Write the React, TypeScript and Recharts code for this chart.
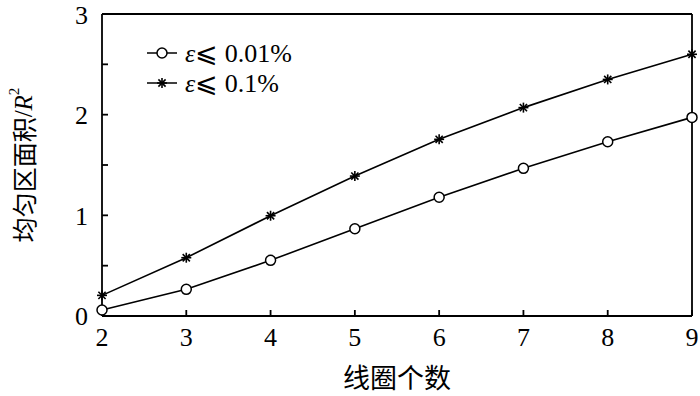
import React from 'react';
import { LineChart, Line, XAxis, YAxis, ReferenceLine } from 'recharts';

const coils = [2, 3, 4, 5, 6, 7, 8, 9];
const strict = [0.06, 0.265, 0.553, 0.867, 1.18, 1.467, 1.731, 1.973];
const loose = [0.205, 0.579, 0.996, 1.39, 1.755, 2.07, 2.35, 2.6];
const xTicks = [2, 3, 4, 5, 6, 7, 8, 9];
const yTicks = [0, 0.5, 1, 1.5, 2, 2.5, 3];
const seriesNames = ['0.01%', '0.1%'];

const data = coils.map((n, i) => ({ n, strict: strict[i], loose: loose[i] }));

const serif = '"Liberation Serif", "Times New Roman", serif';
const cjk = '"Noto Sans CJK SC", sans-serif';

const CircleDot = (props: any) => {
    const { cx, cy } = props;
    if (cx == null || cy == null) return null;
    return <circle cx={cx} cy={cy} r={5} fill="#fff" stroke="#000" strokeWidth={1.5} />;
};

const StarDot = (props: any) => {
    const { cx, cy } = props;
    if (cx == null || cy == null) return null;
    const r = 5;
    const d = r * 0.72;
    return (
        <g stroke="#000" strokeWidth={1.6}>
            <line x1={cx - r} y1={cy} x2={cx + r} y2={cy} />
            <line x1={cx} y1={cy - r} x2={cx} y2={cy + r} />
            <line x1={cx - d} y1={cy - d} x2={cx + d} y2={cy + d} />
            <line x1={cx - d} y1={cy + d} x2={cx + d} y2={cy - d} />
        </g>
    );
};

const LegendBox = () => (
    <svg width={200} height={64} style={{ position: 'absolute', left: 145, top: 37 }}>
        {seriesNames.map((name, i) => {
            const y = 16 + i * 30;
            return (
                <g key={name}>
                    <line x1={2} y1={y} x2={32} y2={y} stroke="#000" strokeWidth={1.5} />
                    {i === 1 ? <StarDot cx={17} cy={y} /> : <CircleDot cx={17} cy={y} />}
                    <text x={40} y={y + 9} fontFamily={serif} fontSize={26} fill="#000">
                        <tspan fontStyle="italic">ε</tspan>
                        <tspan fontFamily='"DejaVu Serif", serif' fontSize={27}>⩽</tspan>
                        <tspan> {name}</tspan>
                    </text>
                </g>
            );
        })}
    </svg>
);

const YLabel = (props: any) => {
    const vb = props.viewBox || {};
    const cy = (vb.y ?? 14) + (vb.height ?? 302) / 2;
    const cx = 23;
    return (
        <text
            x={cx}
            y={cy}
            transform={`rotate(-90 ${cx} ${cy})`}
            textAnchor="middle"
            dominantBaseline="central"
            fill="#000"
            fontSize={25}
        >
            <tspan fontFamily={cjk}>均匀区面积</tspan>
            <tspan fontFamily={serif}>/</tspan>
            <tspan fontFamily={serif} fontStyle="italic">R</tspan>
            <tspan fontFamily={serif} fontSize={15} dy={-9}>2</tspan>
        </text>
    );
};

const yFmt = (v: number) => (Number.isInteger(v) ? String(v) : '');

export default function App() {
    return (
        <div style={{ position: 'absolute', left: 0, top: 0, width: 700, height: 396, background: '#fff' }}>
            <LineChart width={700} height={396} data={data} margin={{ top: 14, right: 8, bottom: 0, left: 0 }}>
                <XAxis
                    dataKey="n"
                    type="number"
                    domain={[2, 9]}
                    ticks={xTicks}
                    height={80}
                    stroke="#000"
                    strokeWidth={1.8}
                    tickSize={-6}
                    tickMargin={18}
                    tick={{ fill: '#000', fontSize: 26, fontFamily: serif }}
                    label={{ value: '线圈个数', position: 'insideBottom', offset: 8, fill: '#000', fontSize: 27, fontFamily: cjk }}
                />
                <YAxis
                    type="number"
                    domain={[0, 3]}
                    ticks={yTicks}
                    width={102}
                    stroke="#000"
                    strokeWidth={1.8}
                    tickSize={-6}
                    tickMargin={20}
                    tickFormatter={yFmt}
                    tick={{ fill: '#000', fontSize: 26, fontFamily: serif }}
                    label={<YLabel />}
                />
                <ReferenceLine y={3} stroke="#000" strokeWidth={1.8} />
                <ReferenceLine x={9} stroke="#000" strokeWidth={1.8} />
                <Line
                    dataKey="strict"
                    stroke="#000"
                    strokeWidth={1.6}
                    dot={<CircleDot />}
                    isAnimationActive={false}
                />
                <Line
                    dataKey="loose"
                    stroke="#000"
                    strokeWidth={1.6}
                    dot={<StarDot />}
                    isAnimationActive={false}
                />
            </LineChart>
            <LegendBox />
        </div>
    );
}
